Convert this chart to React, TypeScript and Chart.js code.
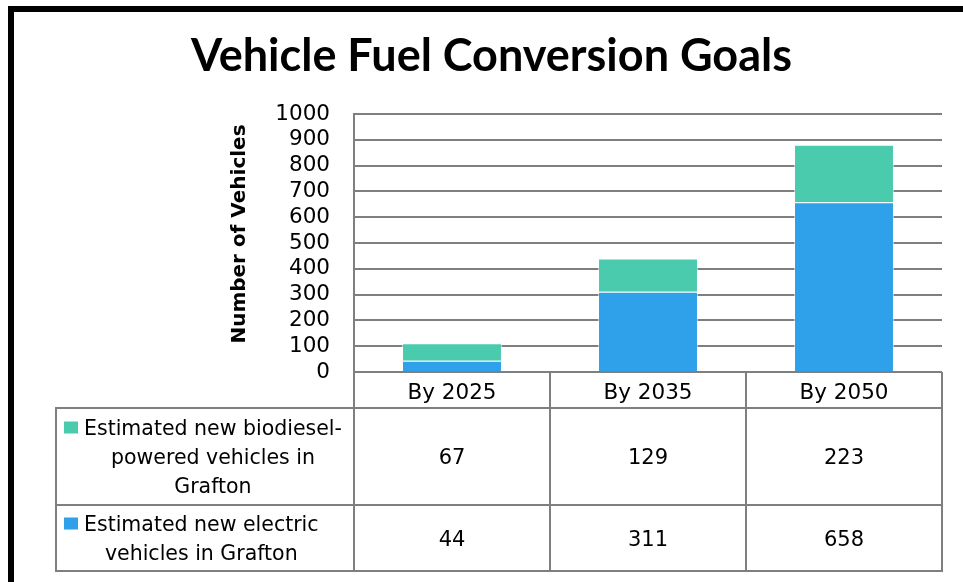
import React, { useEffect, useRef } from "react";
import { Chart, registerables } from "chart.js";

Chart.register(...registerables);

// ---- data ----
const TITLE = "Vehicle Fuel Conversion Goals";
const Y_TITLE = "Number of Vehicles";
const categories = ["By 2025", "By 2035", "By 2050"];
const electric = [44, 311, 658];
const biodiesel = [67, 129, 223];
const electricLabelLines = ["Estimated new electric", "vehicles in Grafton"];
const biodieselLabelLines = ["Estimated new biodiesel-", "powered vehicles in", "Grafton"];
const Y_MIN = 0;
const Y_MAX = 1000;
const Y_STEP = 100;

// ---- styles ----
const BLUE = "#2fa0ea";
const TEAL = "#4bcbae";
const GRID = "#7f7f7f";
const FONT = "'DejaVu Sans', sans-serif";
const TITLE_FONT = "Lato, 'DejaVu Sans', sans-serif";
const TABLE_LEFT = 56;
const ROW_HEIGHTS = [97, 66];
const LINE_H = 29;
const Y_TITLE_X = 240;
const Y_TITLE_Y = 234;

const tablePlugin = {
  id: "dataTable",
  afterDraw(chart: any) {
    const ctx: CanvasRenderingContext2D = chart.ctx;
    const xs = chart.scales.x;
    const ca = chart.chartArea;
    const n = chart.data.labels.length;
    const edges: number[] = [];
    for (let i = 0; i <= n; i++) edges.push(xs.getPixelForValue(i - 0.5));
    const headerBottom = xs.bottom;
    const yLines = [headerBottom];
    let yy = headerBottom;
    ROW_HEIGHTS.forEach((h) => {
      yy += h;
      yLines.push(yy);
    });
    const tableBottom = yy;

    ctx.save();
    ctx.strokeStyle = GRID;
    ctx.lineWidth = 2;
    const line = (x1: number, y1: number, x2: number, y2: number) => {
      ctx.beginPath();
      ctx.moveTo(x1, y1);
      ctx.lineTo(x2, y2);
      ctx.stroke();
    };
    yLines.forEach((y) => line(TABLE_LEFT, y, edges[n] + 1, y));
    edges.forEach((ex) => line(ex, ca.bottom, ex, tableBottom + 1));
    line(TABLE_LEFT, headerBottom - 1, TABLE_LEFT, tableBottom + 1);

    // rows: top row = last dataset (top of the stack)
    const dsRows = chart.data.datasets.slice().reverse();
    dsRows.forEach((ds: any, r: number) => {
      const top = yLines[r];
      const bottom = yLines[r + 1];
      const mid = (top + bottom) / 2;
      const lines: string[] = ds.labelLines;
      ctx.font = `20.5px ${FONT}`;
      ctx.fillStyle = "#000";
      ctx.textBaseline = "alphabetic";
      ctx.textAlign = "center";
      const maxW = Math.max(...lines.map((l) => ctx.measureText(l).width));
      const textLeft = TABLE_LEFT + 28;
      const cx = textLeft + maxW / 2;
      lines.forEach((l, k) => {
        const cy = mid + (k - (lines.length - 1) / 2) * LINE_H;
        ctx.fillText(l, cx, cy + 7.5);
        if (k === 0) {
          ctx.fillStyle = ds.backgroundColor;
          ctx.fillRect(TABLE_LEFT + 8, cy - 6, 14, 12);
          ctx.fillStyle = "#000";
        }
      });
      ctx.font = `21px ${FONT}`;
      ds.data.forEach((v: number, i: number) => {
        const x = (edges[i] + edges[i + 1]) / 2;
        ctx.fillText(String(v), x, mid + 7.5);
      });
    });

    // y axis title
    ctx.translate(Y_TITLE_X, Y_TITLE_Y);
    ctx.rotate(-Math.PI / 2);
    ctx.font = `bold 20px ${FONT}`;
    ctx.textAlign = "center";
    ctx.textBaseline = "middle";
    ctx.fillStyle = "#000";
    ctx.fillText(Y_TITLE, 0, 0);
    ctx.restore();
  },
};

export default function App() {
  const ref = useRef<HTMLCanvasElement | null>(null);
  useEffect(() => {
    if (!ref.current) return;
    const chart = new Chart(ref.current, {
      type: "bar",
      data: {
        labels: categories,
        datasets: [
          {
            label: electricLabelLines.join(" "),
            labelLines: electricLabelLines,
            data: electric,
            backgroundColor: BLUE,
            borderColor: "rgba(255,255,255,0.55)",
            borderWidth: 1,
            categoryPercentage: 1,
            barPercentage: 0.51,
          } as any,
          {
            label: biodieselLabelLines.join(" "),
            labelLines: biodieselLabelLines,
            data: biodiesel,
            backgroundColor: TEAL,
            borderColor: "rgba(255,255,255,0.55)",
            borderWidth: 1,
            categoryPercentage: 1,
            barPercentage: 0.51,
          } as any,
        ],
      },
      options: {
        responsive: false,
        animation: false,
        layout: { padding: { left: 41, right: 21, top: 0, bottom: 174 } },
        plugins: {
          legend: { display: false },
          tooltip: { enabled: false },
          title: {
            display: true,
            text: TITLE,
            color: "#000",
            font: { family: TITLE_FONT, size: 45, weight: "bold" },
            padding: { top: 29, bottom: 31 },
          },
        },
        scales: {
          x: {
            stacked: true,
            grid: { display: false },
            border: { display: false },
            ticks: { color: "#000", font: { family: FONT, size: 21.5 }, padding: 1 },
            afterFit: (s: any) => {
              s.height = 36;
            },
          },
          y: {
            stacked: true,
            min: Y_MIN,
            max: Y_MAX,
            ticks: {
              stepSize: Y_STEP,
              autoSkip: false,
              color: "#000",
              font: { family: FONT, size: 21.5 },
              padding: 24,
              callback: (v: any) => String(v),
            },
            grid: { color: GRID, lineWidth: 2, drawTicks: false },
            border: { display: true, color: GRID, width: 2 },
            title: { display: false, text: Y_TITLE },
            afterFit: (s: any) => {
              s.width = 354 - 41;
            },
          },
        },
      } as any,
      plugins: [tablePlugin],
    });
    return () => chart.destroy();
  }, []);
  return (
    <div style={{ position: "fixed", left: 0, top: 0, width: 963, height: 582, background: "#fff" }}>
      <div
        style={{
          position: "absolute",
          left: 8,
          top: 6,
          right: 0,
          bottom: 0,
          borderTop: "6px solid #000",
          borderLeft: "6px solid #000",
        }}
      />
      <canvas ref={ref} width={963} height={582} style={{ position: "absolute", left: 0, top: 0 }} />
    </div>
  );
}
